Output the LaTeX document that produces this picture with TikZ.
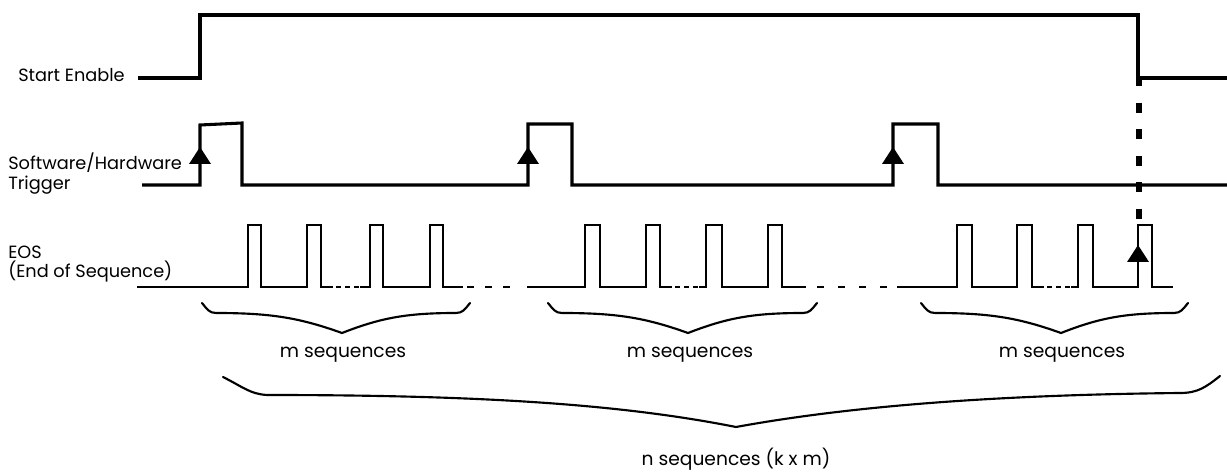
\documentclass[tikz,border=0pt]{standalone}
\usepackage{fontspec}
\setmainfont{Poppins}
\newcommand\uptri[2]{\fill (#1,#2) -- ++(11,17) -- ++(-22,0) -- cycle;}
\newcommand\mbrace[6]{%
\draw[brace] (#1,#4) .. controls ({#1+5},{#5-4}) and ({#1+7},{#5}) .. ({#1+14},{#5})
 .. controls ({#1+0.5*(#2-#1)},{#5}) and ({#2-0.3*(#2-#1)},{#5+0.25*(#6-#5)}) .. (#2,#6)
 .. controls ({#2+0.3*(#3-#2)},{#5+0.25*(#6-#5)}) and ({#3-0.5*(#3-#2)},{#5}) .. ({#3-14},{#5})
 .. controls ({#3-7},{#5}) and ({#3-5},{#5-4}) .. (#3,#4);}
\begin{document}
\begin{tikzpicture}[x=0.75pt,y=-0.75pt,
  sig/.style={line width=2.3pt,line join=miter},
  sigb/.style={line width=2.2pt,line join=miter},
  brace/.style={line width=1.6pt,line cap=round},
  dots/.style={sigb,dash pattern=on 3.75pt off 3pt},
  lbl/.style={inner sep=0pt,anchor=base west,font=\fontsize{13.3}{15}\selectfont},
  clbl/.style={inner sep=0pt,anchor=base,font=\fontsize{14}{16}\selectfont}]
\useasboundingbox (0,0) rectangle (1227,473);
% labels
\node[lbl] (se) at (18,82) {Start Enable};
\node[lbl] (sw) at (8,170) {Software/Hardware};
\node[lbl] (tr) at (8,190) {Trigger};
\node[lbl] (eos) at (8,259) {EOS};
\node[lbl] (eosb) at (8,278) {(End of Sequence)};
\node[clbl] (m1) at (343,358) {m sequences};
\node[clbl] (m2) at (690,358) {m sequences};
\node[clbl] (m3) at (1062,358) {m sequences};
\node[clbl] (nn) at (736,465) {n sequences (k x m)};
% start enable
\draw[sig] (138,78) -- (200,78) -- (200,15) -- (1138,15) -- (1138,78) -- (1227,78);
% trigger
\draw[sig] (142,185) -- (200,185) -- (200,125) -- (242,123) -- (242,185) -- (528,185) -- (528,124) -- (572,124) -- (572,185) -- (893,185) -- (893,124) -- (938,124) -- (938,185) -- (1227,185);
\uptri{200}{147}
\uptri{528}{147}
\uptri{893}{147}
% dashed link
\draw[line width=4.5pt,dash pattern=on 7.5pt off 12.4pt] (1139,76) -- (1139,220);
% EOS
\draw[sigb] (137,287) -- (248,287) -- (248,225) -- (261,225) -- (261,287) -- (307,287) -- (307,225) -- (321,225) -- (321,287) -- (333,287);
\draw[dots] (336,287) -- (360,287);
\draw[sigb] (360,287) -- (370,287) -- (370,225) -- (383,225) -- (383,287) -- (430,287) -- (430,225) -- (443,225) -- (443,287) -- (463,287);
\draw[sigb,dash pattern=on 5.25pt off 8.25pt] (467,287) -- (513,287);
\draw[sigb] (527,287) -- (585,287) -- (585,225) -- (600,225) -- (600,287) -- (646,287) -- (646,225) -- (660,225) -- (660,287) -- (672,287);
\draw[dots] (675,287) -- (699,287);
\draw[sigb] (699,287) -- (706,287) -- (706,225) -- (722,225) -- (722,287) -- (768,287) -- (768,225) -- (782,225) -- (782,287) -- (806,287);
\draw[sigb,dash pattern=on 5.25pt off 10.5pt] (817,287) -- (888,287);
\draw[sigb] (897,287) -- (957,287) -- (957,225) -- (972,225) -- (972,287) -- (1017,287) -- (1017,225) -- (1032,225) -- (1032,287) -- (1044,287);
\draw[dots] (1047,287) -- (1071,287);
\draw[sigb] (1071,287) -- (1078,287) -- (1078,225) -- (1093,225) -- (1093,287) -- (1138,287) -- (1138,225) -- (1152,225) -- (1152,287) -- (1173,287);
\uptri{1138}{245}
% braces
\mbrace{202}{342}{470}{303}{313}{333}
\mbrace{548}{688}{817}{303}{313}{333}
\mbrace{921}{1061}{1188}{303}{313}{333}
\draw[brace] (223,377) .. controls (243,387) and (250,394) .. (267,395)
  .. controls (480,395) and (620,404) .. (736,427)
  .. controls (840,408) and (980,395) .. (1180,393)
  .. controls (1198,393) and (1206,387) .. (1220,376);
\end{tikzpicture}
\end{document}
